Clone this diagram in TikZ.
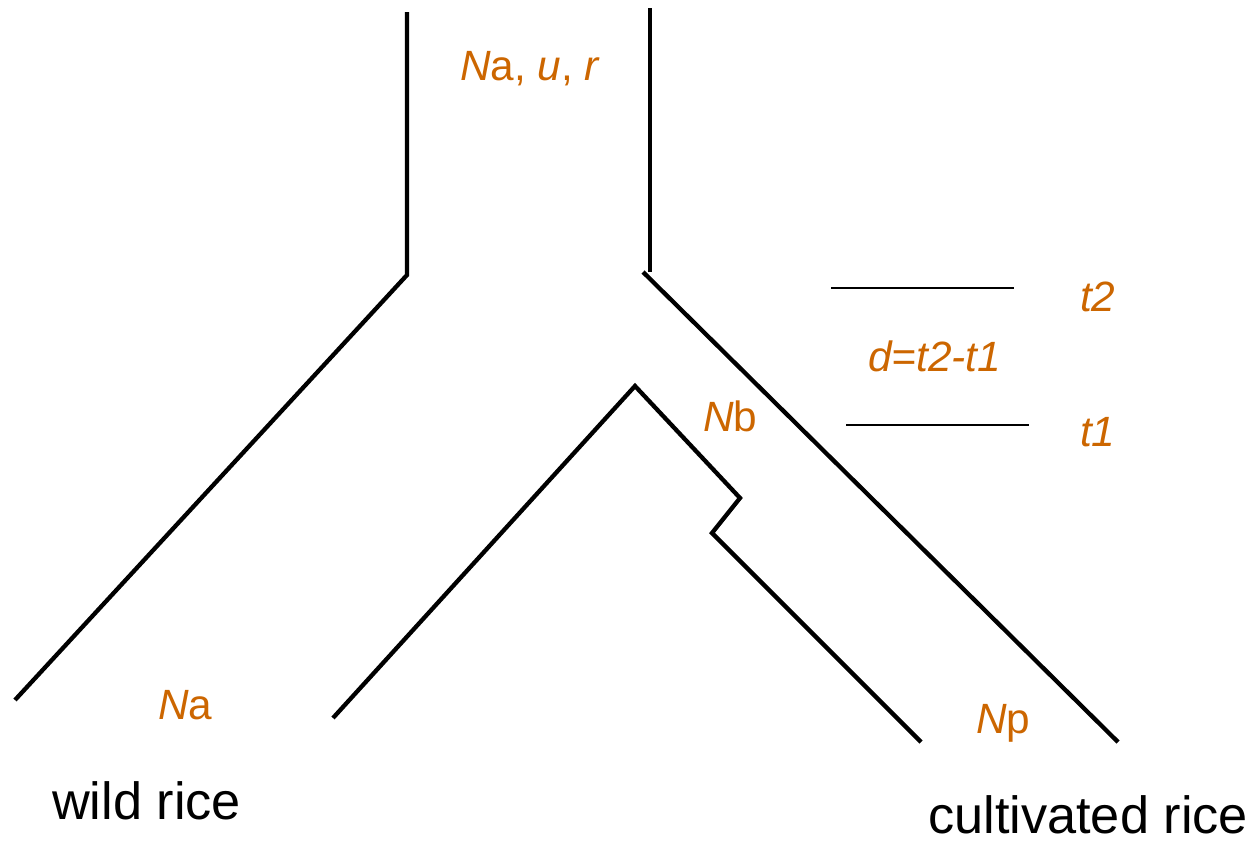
\documentclass[tikz,border=0pt]{standalone}
\usepackage{fontspec}
\setmainfont{Liberation Sans}
\definecolor{labelorange}{RGB}{204,102,0}
\tikzset{
  branch/.style={line width=4.3bp, line cap=butt, line join=miter},
  timeline/.style={line width=1.5bp},
  param/.style={text=labelorange, font=\fontsize{42.5}{48}\selectfont, inner sep=0pt, anchor=base west},
  species/.style={text=black, font=\fontsize{52.5}{60}\selectfont, inner sep=0pt, text depth=0pt, anchor=base west}
}
\begin{document}
\begin{tikzpicture}[x=1bp,y=-1bp]
  \useasboundingbox (0,0) rectangle (1259,842);
  % ancestral population
  \coordinate (ancL) at (407,12);
  \coordinate (splitL) at (407,275);
  \coordinate (ancR) at (650,8);
  \coordinate (splitR) at (650,272);
  \coordinate (splitRd) at (643,272);
  % wild rice lineage
  \coordinate (wildEnd) at (15,700);
  % cultivated outer edge
  \coordinate (cultEnd) at (1118,742);
  % bottleneck branch
  \coordinate (innerL) at (333,718);
  \coordinate (apex) at (635,386);
  \coordinate (neckOut) at (740,498);
  \coordinate (neckIn) at (712,533);
  \coordinate (innerEnd) at (921,742);

  \draw[branch] (ancL) -- (splitL) -- (wildEnd);
  \draw[branch] (ancR) -- (splitR);
  \draw[branch] (splitRd) -- (cultEnd);
  \draw[branch] (innerL) -- (apex) -- (neckOut) -- (neckIn) -- (innerEnd);

  % time markers
  \coordinate (t2a) at (831,288);
  \coordinate (t2b) at (1014,288);
  \coordinate (t1a) at (846,425);
  \coordinate (t1b) at (1029,425);
  \draw[timeline] (t2a) -- (t2b);
  \draw[timeline] (t1a) -- (t1b);

  % parameter labels
  \node[param] (lanc) at (460,80) {\textit{N}a, \textit{u}, \textit{r}};
  \node[param] (lt2) at (1080,311) {\textit{t2}};
  \node[param] (lt1) at (1080,446) {\textit{t1}};
  \node[param] (ld) at (868,371) {\textit{d=t2-t1}};
  \node[param] (lnb) at (703,431) {\textit{N}b};
  \node[param] (lna) at (158,719) {\textit{N}a};
  \node[param] (lnp) at (976,733) {\textit{N}p};

  % population names
  \node[species] (wild) at (52,819) {wild rice};
  \node[species] (cult) at (928,833) {cultivated rice};
\end{tikzpicture}
\end{document}
